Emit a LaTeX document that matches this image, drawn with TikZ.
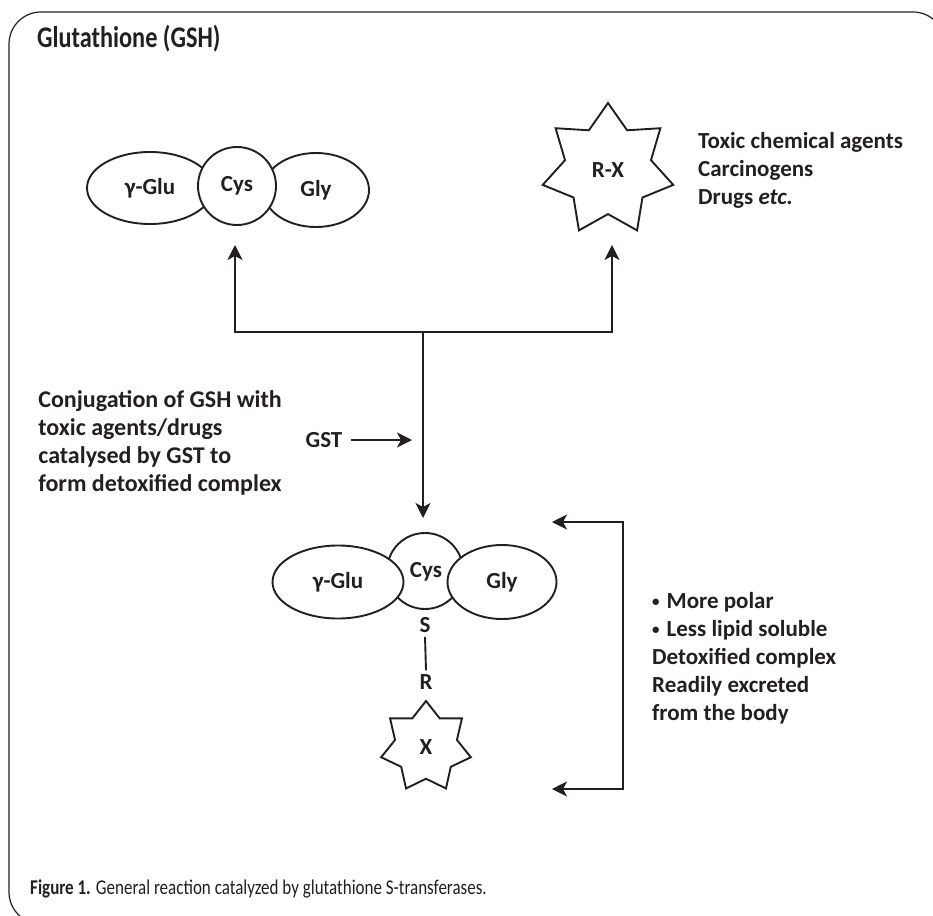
\documentclass[tikz,border=0pt]{standalone}
\usepackage{fontspec}
\usepackage{graphicx}
\setmainfont{Carlito}
\usetikzlibrary{shapes.geometric,arrows.meta}
\definecolor{ink}{HTML}{231F20}
\newcommand{\smallbullet}{\raisebox{0.2ex}{\fontsize{15}{15}\selectfont\textbullet}\hspace{7pt}}
\newcommand{\narrow}[1]{\scalebox{0.81}[1]{#1}}
\tikzset{
	res/.style={ellipse, draw=ink, line width=1.9pt, fill=white, inner sep=0pt, text=ink, font=\bfseries\fontsize{23}{26}\selectfont},
	ring/.style={circle, draw=ink, line width=1.9pt, fill=white, inner sep=0pt, text=ink, font=\bfseries\fontsize{23}{26}\selectfont},
	agent/.style={star, star points=7, draw=ink, line width=1.9pt, fill=white, inner sep=0pt, text=ink, font=\bfseries\fontsize{23}{26}\selectfont},
	arr/.style={draw=ink, line width=1.9pt, -{Stealth[length=15pt,width=15pt,inset=4pt]}},
	txt/.style={text=ink, font=\bfseries\fontsize{23}{28}\selectfont, align=left, inner sep=0pt}
}
\begin{document}
\begin{tikzpicture}[x=1pt,y=-1pt]
	\useasboundingbox (0,0) rectangle (933,915);
	\clip (0,0) rectangle (933,915);
	\draw[ink, line width=1.2pt, rounded corners=32pt] (9,12) rectangle (945,924);
	\node[txt, anchor=base west, font=\bfseries\fontsize{30}{32}\selectfont] (title) at (37,48) {\narrow{Glutathione (GSH)}};

	% free glutathione
	\node[res, minimum width=126pt, minimum height=72pt] (glu1) at (150,188) {γ-Glu};
	\node[res, minimum width=106pt, minimum height=74pt] (gly1) at (316,190) {Gly};
	\node[ring, minimum size=78pt] (cys1) at (237,186) {Cys};

	% toxic agent
	\node[agent, star point ratio=1.52, minimum size=134pt] (rx) at (608,170) {R-X};
	\node[txt, anchor=west] (toxic) at (698,170) {Toxic chemical agents\\Carcinogens\\Drugs \textit{etc.}};

	\coordinate (split) at (423,332);
	\coordinate (gshin) at (235,245);
	\coordinate (rxin) at (612,245);
	\coordinate (conj) at (423,518);
	\draw[arr] (split) -| (gshin);
	\draw[arr] (split) -| (rxin);
	\draw[arr] (split) -- (conj);

	\node[txt, anchor=east, font=\bfseries\fontsize{24}{28}\selectfont] (note) at (282,443) {Conjugation of GSH with\\toxic agents/drugs\\catalysed by GST to\\form detoxified complex};
	\node[txt] (gst) at (324,440) {GST};
	\coordinate (gstin) at (412,440);
	\draw[arr] ([xshift=8pt]gst.east) -- (gstin);

	% conjugate
	\node[ring, minimum size=76pt] (cys2) at (425,571) {};
	\node[txt] at (426,572) {Cys};
	\node[res, minimum width=131pt, minimum height=73pt] (glu2) at (338,582) {γ-Glu};
	\node[res, minimum width=109pt, minimum height=74pt] (gly2) at (502,582) {Gly};
	\node[txt] (s) at (425,625) {S};
	\node[txt] (r) at (426,682) {R};
	\draw[ink, line width=1.9pt] ([yshift=-4pt]s.south) -- ([yshift=4pt]r.north);
	\node[agent, star point ratio=1.45, minimum size=92pt] (x) at (426,747) {X};

	% properties
	\coordinate (brk) at (623,655);
	\coordinate (btop) at (552,522);
	\coordinate (bbot) at (552,789);
	\draw[arr] (brk) |- (btop);
	\draw[arr] (brk) |- (bbot);
	\node[txt, anchor=west] (props) at (652,658) {\smallbullet More polar\\\smallbullet Less lipid soluble\\Detoxified complex\\Readily excreted\\from the body};

	\node[anchor=base west, inner sep=0pt, text=ink, font=\fontsize{21}{24}\selectfont] (caption) at (30,894) {\narrow{\textbf{Figure 1.} General reaction catalyzed by glutathione S-transferases.}};
\end{tikzpicture}
\end{document}
